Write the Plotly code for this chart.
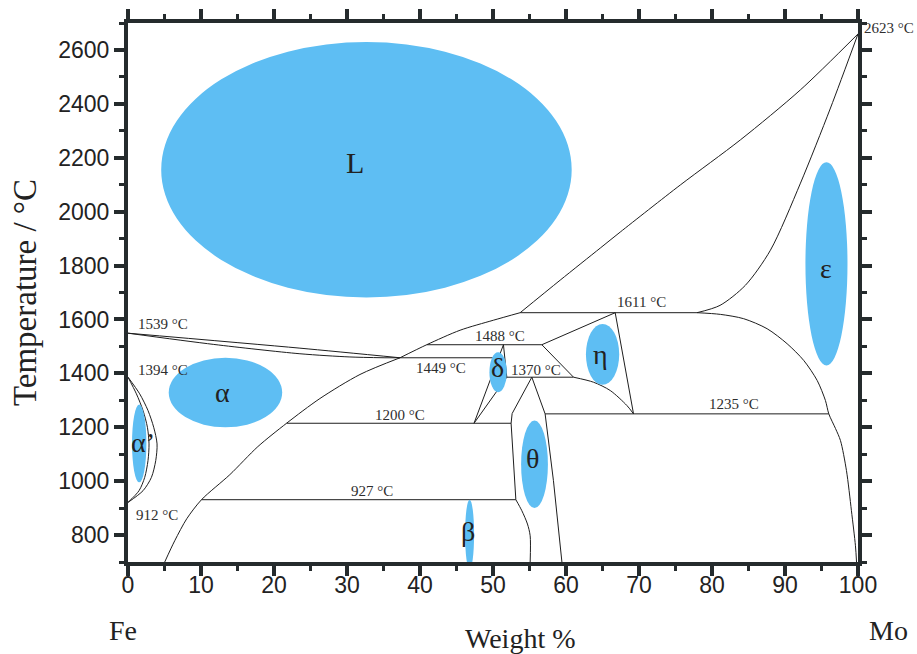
import plotly.graph_objects as go

# ---------------- data: phase boundaries (wt% Mo, temperature degC) ----------------
fe_liquidus_x = [0, 23.55, 37.26]
fe_liquidus_t = [1549, 1493.5, 1457.8]
fe_solidus_x = [0, 11.75, 23.55, 30.4, 35.2]
fe_solidus_t = [1549, 1507.3, 1472.7, 1460.8, 1457.8]

gamma_t = [1385.7, 1324, 1262, 1199.9, 1138.2, 1076.2, 1014.1, 964.6, 921.2]
gamma_outer_x = [0, 1.60, 2.74, 3.52, 3.98, 3.80, 3.21, 2.06, 0]
gamma_inner_x = [0, 1.15, 2.06, 2.66, 2.88, 2.74, 2.29, 1.51, 0]

alpha_solvus_x = [5.03, 6.4, 8.05, 10.07, 13.95, 17.79, 21.72, 26.29, 31.78, 37.26]
alpha_solvus_t = [700, 778.8, 860.6, 931.2, 1024.1, 1128.2, 1214.8, 1306.6, 1395.8, 1457.8]

liq_mid_x = [37.26, 40.92, 45.49, 50.05, 53.72]
liq_mid_t = [1457.8, 1506.2, 1560, 1597.1, 1625.1]
liq_right_x = [53.72, 59.2, 64.69, 67.43, 75.66, 83.89, 92.12, 100]
liq_right_t = [1625.1, 1745.8, 1864.8, 1924.3, 2099, 2266.3, 2452.1, 2659.4]
sol_right_x = [77.95, 81.1, 84.57, 88.0, 92.12, 96.23, 100]
sol_right_t = [1625.1, 1652.3, 1726.7, 1856.8, 2105.8, 2384.5, 2659.4]
mo_solvus_x = [77.95, 81.15, 84.34, 87.55, 90.29, 92.57, 94.41, 95.54, 96.0,
               96.92, 97.6, 98.42, 99.1, 99.65, 99.8]
mo_solvus_t = [1625.1, 1618.8, 1602.8, 1565.6, 1509.9, 1447.8, 1373.5, 1299.1, 1249.7,
               1195.1, 1150.5, 1039, 890.3, 760.2, 700]

# isotherms: start wt%, end wt%, temperature
iso_x0 = [10.07, 21.72, 35.2, 40.92, 51.89, 53.72, 57.14]
iso_x1 = [53.13, 52.48, 51.0, 56.69, 61.03, 77.95, 96.0]
iso_t = [931.2, 1214.8, 1457.8, 1506.2, 1385.7, 1625.1, 1249.7]

# delta wedge
delta_x = [51.43, 47.4, 51.89, 51.43]
delta_t = [1506.2, 1214.8, 1385.7, 1506.2]

# theta field
theta_left_x = [53.13, 52.48, 52.62, 55.32, 57.14, 58.28, 59.44]
theta_left_t = [931.2, 1214.8, 1250.8, 1385.7, 1249.7, 1001.8, 700]
theta_low_x = [53.13, 53.95, 54.72, 55.09, 55.09]
theta_low_t = [931.2, 890.3, 840.9, 797.4, 700]

# eta field
eta_edge_x = [61.03, 56.69, 66.74, 69.25]
eta_edge_t = [1385.7, 1506.2, 1625.1, 1249.7]
eta_low_x = [61.03, 63.77, 66.06, 68.35, 69.25]
eta_low_t = [1385.7, 1367.1, 1336.3, 1280.5, 1249.7]

# phase-field ellipses: label, x0, x1, t0, t1
phase_names = ["L", "α", "α’", "δ", "η", "ε", "θ", "β"]
ell_x0 = [4.55, 5.58, 0.55, 49.51, 62.73, 92.8, 53.85, 46.18]
ell_x1 = [60.78, 21.12, 2.52, 51.89, 67.29, 98.56, 57.52, 47.41]
ell_t0 = [1681.9, 1199.9, 995.5, 1330.0, 1357.5, 1429.2, 900.3, 673.6]
ell_t1 = [2629.7, 1457.8, 1284.3, 1478.7, 1583.5, 2183.7, 1224.8, 931.2]
lab_x = [31.09, 12.99, 2.02, 50.6, 64.68, 95.68, 55.37, 46.59]
lab_t = [2183.7, 1328.9, 1143.0, 1421.8, 1470.0, 1790.0, 1083.6, 812.0]

# temperature annotations
temp_text = ["1539 °C", "1394 °C", "912 °C", "927 °C", "1200 °C", "1449 °C",
             "1488 °C", "1370 °C", "1611 °C", "1235 °C", "2623 °C"]
temp_x = [1.06, 1.06, 0.78, 33.38, 37.26, 42.81, 50.97, 55.84, 70.35, 83.04, 100.0]
temp_t = [1584.2, 1410.6, 875.4, 964.6, 1246.0, 1419.2, 1537.0, 1413.2, 1664.5, 1286.9, 2681.7]
temp_anchor = ["left", "left", "left", "center", "center", "center",
               "center", "center", "center", "center", "left"]
temp_shift = [0, 0, 0, 0, 0, 0, 0, 0, 0, 0, 4]

x_ticks = list(range(0, 101, 10))
y_ticks = list(range(800, 2601, 200))

# ---------------- figure ----------------
LINE = "#1e1e1e"
BLUE = "#5ebef3"
AX = "#252b2d"

fig = go.Figure()

def add_line(xs, ts, smooth=False):
    fig.add_trace(go.Scatter(
        x=xs, y=ts, mode="lines",
        line=dict(color=LINE, width=1, shape="spline" if smooth else "linear",
                  smoothing=0.8),
        hoverinfo="skip", showlegend=False))

add_line(fe_liquidus_x, fe_liquidus_t, True)
add_line(fe_solidus_x, fe_solidus_t, True)
add_line(gamma_outer_x, gamma_t, True)
add_line(gamma_inner_x, gamma_t, True)
add_line(alpha_solvus_x, alpha_solvus_t, True)
add_line(liq_mid_x, liq_mid_t, True)
add_line(liq_right_x, liq_right_t, True)
add_line(sol_right_x, sol_right_t, True)
add_line(mo_solvus_x, mo_solvus_t, True)
for a, b, t in zip(iso_x0, iso_x1, iso_t):
    add_line([a, b], [t, t])
add_line(delta_x, delta_t)
add_line(theta_left_x, theta_left_t)
add_line(theta_low_x, theta_low_t, True)
add_line(eta_edge_x, eta_edge_t)
add_line(eta_low_x, eta_low_t, True)

shapes = []
annotations = []
for name, x0, x1, t0, t1, lx, lt in zip(phase_names, ell_x0, ell_x1, ell_t0, ell_t1, lab_x, lab_t):
    shapes.append(dict(type="circle", xref="x", yref="y", x0=x0, x1=x1, y0=t0, y1=t1,
                       fillcolor=BLUE, line=dict(width=0), layer="above"))
    annotations.append(dict(x=lx, y=lt, xref="x", yref="y", text=name, showarrow=False,
                            font=dict(family="Liberation Serif", size=30 if name == "L" else 28,
                                      color="#222222")))

for txt, x, t, anc, sh in zip(temp_text, temp_x, temp_t, temp_anchor, temp_shift):
    annotations.append(dict(x=x, y=t, xref="x", yref="y", text=txt, showarrow=False,
                            xanchor=anc, yanchor="middle", xshift=sh,
                            font=dict(family="Liberation Serif", size=15, color="#2e2e2e")))

serif = dict(family="Liberation Serif", size=28, color="#222222")
for txt, px, py in [("Fe", -0.0073, -0.127), ("Mo", 1.0418, -0.127), ("Weight %", 0.537, -0.142)]:
    annotations.append(dict(x=px, y=py, xref="paper", yref="paper", text=txt,
                            xanchor="center", yanchor="middle", showarrow=False, font=serif))
annotations.append(dict(x=-0.1417, y=0.5, xref="paper", yref="paper", text="Temperature / °C",
                        xanchor="center", yanchor="middle", showarrow=False, textangle=-90,
                        font=dict(family="Liberation Serif", size=33, color="#222222")))

axis_common = dict(showline=True, linewidth=4, linecolor=AX, mirror="ticks",
                   ticks="outside", ticklen=10, tickwidth=4, tickcolor=AX,
                   showgrid=False, zeroline=False,
                   tickfont=dict(family="Liberation Sans", size=23, color="#222222"))

fig.update_layout(
    width=917, height=654,
    margin=dict(l=128, r=59, t=23, b=92, autoexpand=False),
    paper_bgcolor="white", plot_bgcolor="white",
    shapes=shapes, annotations=annotations,
    xaxis=dict(range=[0, 100], tickvals=x_ticks, ticklabelstandoff=-11,
               minor=dict(ticks="outside", ticklen=5, tickwidth=3, tickcolor=AX, dtick=5),
               **axis_common),
    yaxis=dict(range=[700, 2700], tickvals=y_ticks,
               minor=dict(ticks="outside", ticklen=5, tickwidth=3, tickcolor=AX, dtick=100),
               **axis_common),
)

fig.write_html("out.html")
